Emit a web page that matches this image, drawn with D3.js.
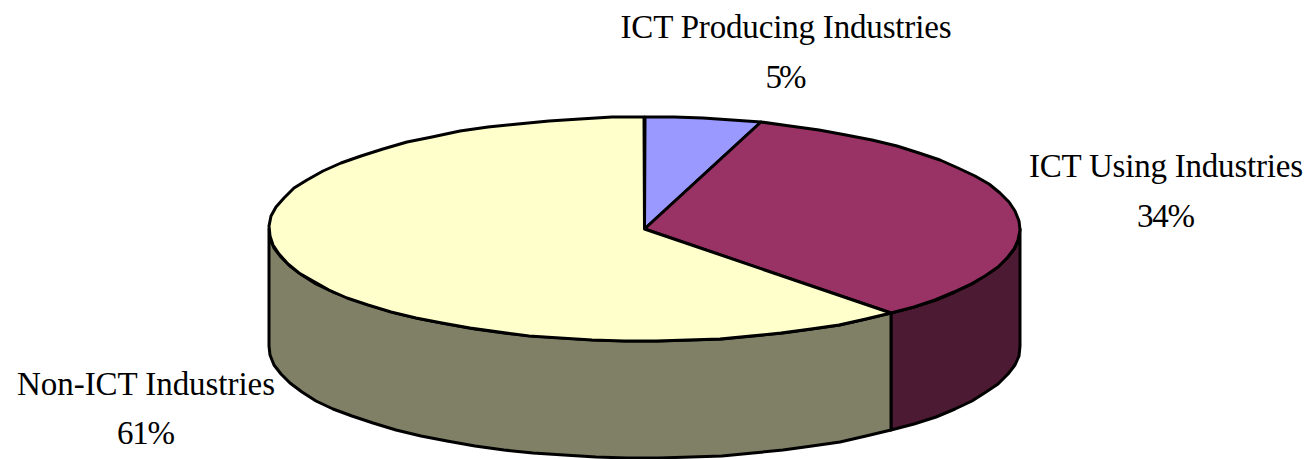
<!DOCTYPE html>
<html><head><meta charset="utf-8">
<script src="https://cdn.jsdelivr.net/npm/d3@7"></script>
<style>html,body{margin:0;padding:0;background:#fff}svg{display:block}text{font-family:"Liberation Serif",serif;fill:#000}</style>
</head><body><div id="c"></div>
<script>
const categories = ["ICT Producing Industries","ICT Using Industries","Non-ICT Industries"];
const values = [5, 33.6, 61.4];
const valueLabels = ["5%","34%","61%"];
const topColors = ["#9999ff","#993366","#ffffcc"];
const sideColors = ["#4d4d80","#4d1a33","#808066"];
const W=1310,H=459,cx=644.5,cy=229,rx=375.5,ry=112,depth=117;
const svg=d3.select("#c").append("svg").attr("width",W).attr("height",H);
const pie=d3.pie().sort(null).value(d=>d)(values);
const STEP=Math.PI/36;
const px=a=>cx+rx*Math.sin(a), py=a=>cy-ry*Math.cos(a);
const line=d3.line();
function rim(a0,a1){
  const out=[];const n=Math.max(1,Math.ceil((a1-a0)/STEP));
  for(let i=0;i<=n;i++){const a=a0+(a1-a0)*i/n;out.push([Math.round(px(a)),Math.round(py(a))]);}
  return out;
}
// side walls: only the front (visible) part of the rim
pie.forEach((d,i)=>{
  const a0=Math.max(d.startAngle,Math.PI/2),a1=Math.min(d.endAngle,3*Math.PI/2);
  if(a1<=a0)return;
  const r=rim(a0,a1);
  const pts=r.concat(r.slice().reverse().map(p=>[p[0],p[1]+depth]));
  svg.append("path").attr("d",line(pts)+"Z").attr("fill",sideColors[i]).attr("stroke","#000").attr("stroke-width",3).attr("stroke-linejoin","round");
});
// top faces
pie.forEach((d,i)=>{
  const pts=[[cx,cy]].concat(rim(d.startAngle,d.endAngle));
  svg.append("path").attr("d",line(pts)+"Z").attr("fill",topColors[i]).attr("stroke","#000").attr("stroke-width",3).attr("stroke-linejoin","round");
});
// labels
const labelPos=[[786,27,77],[1166,166,216],[146,384,433]];
const labelWidth=[331,274,258];
categories.forEach((c,i)=>{
  svg.append("text").attr("x",labelPos[i][0]).attr("y",labelPos[i][1]+11).attr("text-anchor","middle").attr("font-size",33).attr("textLength",labelWidth[i]).attr("lengthAdjust","spacing").text(c);
  svg.append("text").attr("x",labelPos[i][0]).attr("y",labelPos[i][2]+11).attr("text-anchor","middle").attr("font-size",33).attr("textLength",valueLabels[i].length>2?58:41).attr("lengthAdjust","spacing").text(valueLabels[i]);
});
</script></body></html>
